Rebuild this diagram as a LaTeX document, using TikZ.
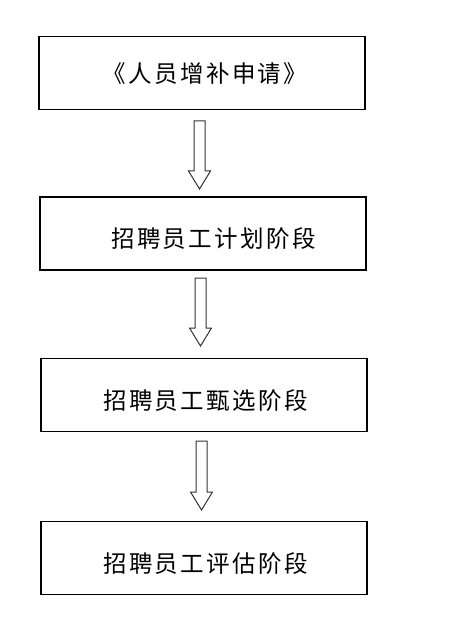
\documentclass[tikz,border=0pt]{standalone}
\usepackage{fontspec}
\newfontfamily\cjk[LetterSpace=10]{Noto Sans CJK SC}
\begin{document}
\begin{tikzpicture}[x=1pt,y=-1pt,
  stagebox/.style={draw=black,line width=1.3pt,minimum width=326pt,minimum height=73pt,inner sep=0pt},
  stagetext/.style={font=\cjk\fontsize{23.5pt}{26pt}\selectfont,text=black,inner sep=0pt},
  blockarrow/.style={draw=black!80,line width=1pt,fill=white}]
\useasboundingbox[fill=white] (0,0) rectangle (467,644);
\node[stagebox] (b1) at (202,73) {};
\node[stagebox] (b2) at (203,233.5) {};
\node[stagebox] (b3) at (204,395) {};
\node[stagebox] (b4) at (204,558) {};
\node[stagetext] (t1) at (205,74) {《人员增补申请》};
\node[stagetext] (t2) at (213.5,238.5) {招聘员工计划阶段};
\node[stagetext] (t3) at (205.5,400.5) {招聘员工甄选阶段};
\node[stagetext] (t4) at (205.5,563.5) {招聘员工评估阶段};
% block arrows: top of shaft at (a), tip at (p); yshift is in page direction (up)
\coordinate (a1) at (199.5,121); \coordinate (p1) at (199.5,189);
\coordinate (a2) at (200.5,278); \coordinate (p2) at (200.5,346);
\coordinate (a3) at (201.5,441); \coordinate (p3) at (201.5,510);
\foreach \i in {1,2,3}{
  \draw[blockarrow] ([xshift=-5.5pt]a\i) -- ([xshift=5.5pt]a\i)
    -- ([xshift=5.5pt,yshift=18pt]p\i) -- ([xshift=11pt,yshift=18pt]p\i)
    -- (p\i) -- ([xshift=-11pt,yshift=18pt]p\i)
    -- ([xshift=-5.5pt,yshift=18pt]p\i) -- cycle;
}
\end{tikzpicture}
\end{document}
